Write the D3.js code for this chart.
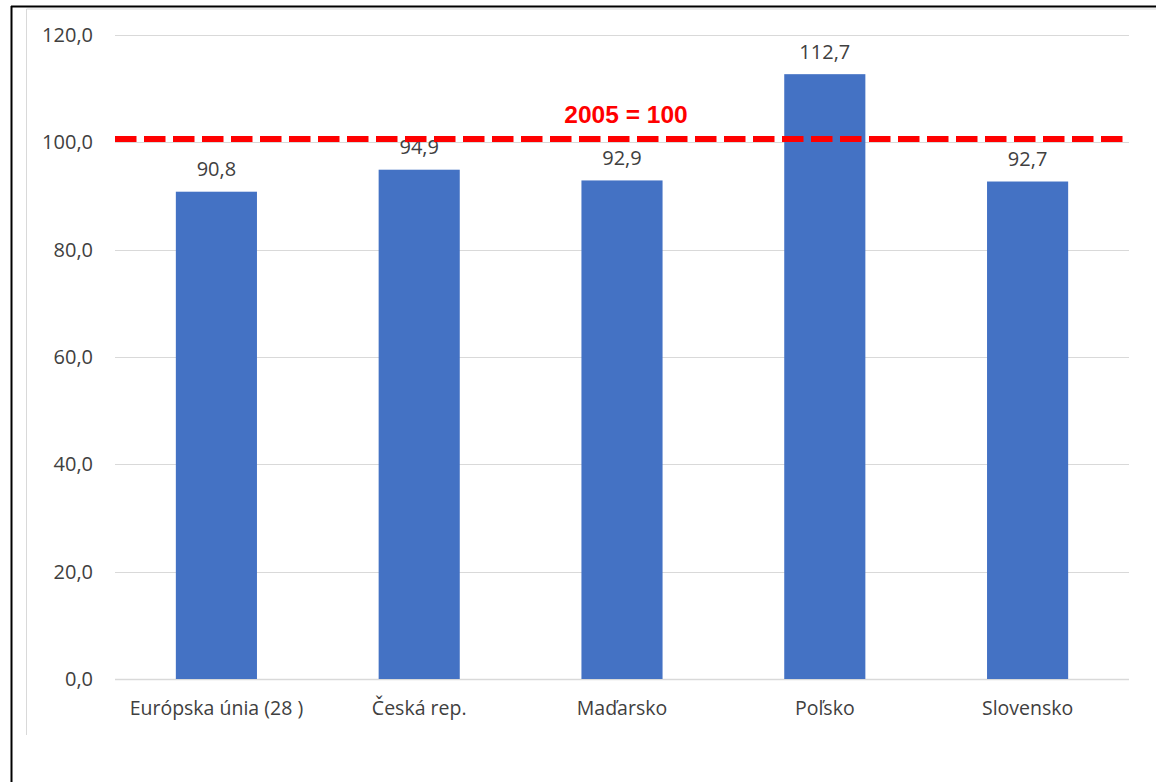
<!DOCTYPE html>
<html>
<head>
<meta charset="utf-8">
<script src="https://cdn.jsdelivr.net/npm/d3@7"></script>
<style>
  html, body { margin: 0; padding: 0; background: #fff; }
  svg { display: block; }
</style>
</head>
<body>
<svg id="chart" width="1156" height="782"></svg>
<script>
const categories = ["Európska únia (28 )", "Česká rep.", "Maďarsko", "Poľsko", "Slovensko"];
const values = [90.8, 94.9, 92.9, 112.7, 92.7];
const valueLabels = ["90,8", "94,9", "92,9", "112,7", "92,7"];
const yTicks = [0, 20, 40, 60, 80, 100, 120];
const yTickLabels = ["0,0", "20,0", "40,0", "60,0", "80,0", "100,0", "120,0"];
const referenceValue = 100.6;
const referenceLabel = "2005 = 100";

(function () {
const svg = d3.select("#chart");
const font = "'Open Sans', 'Liberation Sans', sans-serif";
const textColor = "#404040";

// frame
svg.append("line").attr("x1", 11).attr("x2", 1156).attr("y1", 6.5).attr("y2", 6.5)
  .attr("stroke", "#000").attr("stroke-width", 2);
svg.append("line").attr("x1", 11.5).attr("x2", 11.5).attr("y1", 6).attr("y2", 782)
  .attr("stroke", "#000").attr("stroke-width", 2);
svg.append("line").attr("x1", 26.5).attr("x2", 1156).attr("y1", 9).attr("y2", 9)
  .attr("stroke", "#d9d9d9").attr("stroke-width", 1);
svg.append("line").attr("x1", 26.5).attr("x2", 26.5).attr("y1", 9).attr("y2", 735)
  .attr("stroke", "#d9d9d9").attr("stroke-width", 1);

const mLeft = 115, mRight = 1129, mTop = 35, mBottom = 679;

const x = d3.scaleBand().domain(categories).range([mLeft, mRight]).padding(0);
const y = d3.scaleLinear().domain([0, 120]).range([mBottom, mTop]);
const barW = x.bandwidth() * 0.4;

// gridlines
svg.append("g").selectAll("line").data(yTicks).join("line")
  .attr("x1", mLeft).attr("x2", mRight)
  .attr("y1", d => Math.round(y(d)) + 0.5).attr("y2", d => Math.round(y(d)) + 0.5)
  .attr("stroke", "#d9d9d9").attr("stroke-width", d => d === 0 ? 1.5 : 1);

// y tick labels
svg.append("g").selectAll("text").data(yTicks).join("text")
  .attr("x", 93).attr("y", d => y(d))
  .attr("dy", "0.35em")
  .attr("text-anchor", "end")
  .attr("font-family", font).attr("font-size", 20)
  .attr("fill", textColor)
  .text((d, i) => yTickLabels[i]);

// bars
svg.append("g").selectAll("rect").data(values).join("rect")
  .attr("x", (d, i) => x(categories[i]) + x.bandwidth() / 2 - barW / 2)
  .attr("width", barW)
  .attr("y", d => y(d))
  .attr("height", d => y(0) - y(d))
  .attr("fill", "#4472C4");

// value labels
svg.append("g").selectAll("text").data(values).join("text")
  .attr("x", (d, i) => x(categories[i]) + x.bandwidth() / 2)
  .attr("y", d => y(d) - 15.5)
  .attr("text-anchor", "middle")
  .attr("font-family", font).attr("font-size", 20)
  .attr("fill", textColor)
  .text((d, i) => valueLabels[i]);

// x labels
svg.append("g").selectAll("text").data(categories).join("text")
  .attr("x", d => x(d) + x.bandwidth() / 2)
  .attr("y", 715)
  .attr("text-anchor", "middle")
  .attr("font-family", font).attr("font-size", 19.5)
  .attr("fill", textColor)
  .text(d => d);

// reference line
svg.append("line")
  .attr("x1", mLeft).attr("x2", mRight)
  .attr("y1", y(referenceValue)).attr("y2", y(referenceValue))
  .attr("stroke", "#ff0000").attr("stroke-width", 6)
  .attr("stroke-dasharray", "21.5,7.5");

svg.append("text")
  .attr("x", 626).attr("y", 123)
  .attr("text-anchor", "middle")
  .attr("font-family", "'Liberation Sans', Arial, sans-serif")
  .attr("font-weight", "bold").attr("font-size", 24.5)
  .attr("fill", "#ff0000")
  .text(referenceLabel);
})();
</script>
</body>
</html>
